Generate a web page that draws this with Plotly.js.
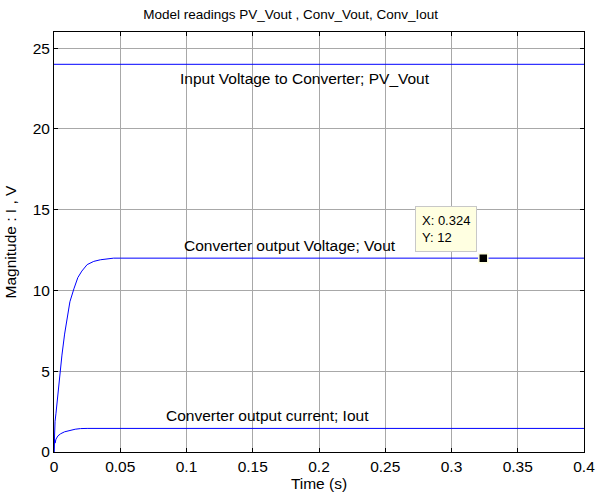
<!DOCTYPE html>
<html><head><meta charset="utf-8">
<script src="https://cdn.plot.ly/plotly-3.0.1.min.js"></script>
<style>body{margin:0;background:#fff}#plot{width:598px;height:495px}</style>
</head><body><div id="plot"></div>
<script>
// PV_Vout (input voltage)
const pvT = [0, 0.4];
const pvV = [24, 24];
// Converter output voltage
const voutT = [0, 0.0003, 0.0008, 0.0015, 0.002, 0.003, 0.004, 0.005, 0.006, 0.008, 0.010, 0.012, 0.015, 0.018, 0.021, 0.025, 0.030, 0.035, 0.040, 0.045, 0.050, 0.4];
const voutV = [0, 1.3, 1.9, 2.4, 2.8, 3.7, 4.6, 5.3, 6.0, 7.3, 8.4, 9.3, 10.1, 10.8, 11.2, 11.6, 11.8, 11.9, 11.95, 12, 12, 12];
// Converter output current
const ioutT = [0, 0.0003, 0.0008, 0.0015, 0.003, 0.005, 0.008, 0.012, 0.016, 0.020, 0.025, 0.4];
const ioutV = [0, 0.8, 0.55, 0.8, 1.0, 1.13, 1.25, 1.35, 1.41, 1.45, 1.46, 1.46];
// Data tip
const tipX = [0.324];
const tipY = [12];
const xTicks = [0, 0.05, 0.1, 0.15, 0.2, 0.25, 0.3, 0.35, 0.4];
const xTickText = ['0', '0.05', '0.1', '0.15', '0.2', '0.25', '0.3', '0.35', '0.4'];
const yTicks = [0, 5, 10, 15, 20, 25];

const line = {color: '#0000ff', width: 1};
const traces = [
  {x: pvT, y: pvV, mode: 'lines', line: line},
  {x: voutT, y: voutV, mode: 'lines', line: line},
  {x: ioutT, y: ioutV, mode: 'lines', line: line},
  {x: tipX, y: tipY, mode: 'markers', marker: {symbol: 'square', size: 9, color: '#000', line: {color: '#ffffe1', width: 1.5}}}
];
const FAM = 'Arial, Liberation Sans, sans-serif';
const font = {family: FAM, size: 15.5, color: '#000'};
const layout = {
  width: 598, height: 495,
  margin: {l: 54, r: 14, t: 32, b: 43},
  showlegend: false,
  paper_bgcolor: '#fff', plot_bgcolor: '#fff',
  font: font,
  title: {text: 'Model readings PV_Vout , Conv_Vout, Conv_Iout', font: {family: FAM, size: 13.5, color: '#000'}, x: 0.486, xanchor: 'center', y: 0.972, yanchor: 'middle'},
  xaxis: {
    range: [0, 0.4], tickvals: xTicks, ticktext: xTickText,
    showgrid: true, gridcolor: '#a8a8a8', gridwidth: 1,
    showline: true, linecolor: '#000', linewidth: 1, mirror: 'ticks',
    ticks: 'inside', ticklen: 4, tickcolor: '#000',
    zeroline: false, tickfont: font,
    title: {text: 'Time (s)', font: font, standoff: 1}
  },
  yaxis: {
    range: [0, 26], tickvals: yTicks,
    showgrid: true, gridcolor: '#a8a8a8', gridwidth: 1,
    showline: true, linecolor: '#000', linewidth: 1, mirror: 'ticks',
    ticks: 'inside', ticklen: 4, tickcolor: '#000',
    zeroline: false, tickfont: font,
    title: {text: 'Magnitude : I , V', font: font, standoff: 12}
  },
  annotations: [
    {x: 0.1894, y: 23.14, xref: 'x', yref: 'y', text: 'Input Voltage to Converter; PV_Vout', showarrow: false, font: font},
    {x: 0.178, y: 12.81, xref: 'x', yref: 'y', text: 'Converter output Voltage; Vout', showarrow: false, font: font},
    {x: 0.1615, y: 2.29, xref: 'x', yref: 'y', text: 'Converter output current; Iout', showarrow: false, font: font},
    {x: tipX[0], y: tipY[0], xref: 'x', yref: 'y', text: 'X: 0.324<br>Y: 12', showarrow: false,
     xanchor: 'right', yanchor: 'bottom', xshift: -6, yshift: 6, align: 'left',
     bgcolor: '#ffffe1', bordercolor: '#c8c8c8', borderwidth: 1, borderpad: 6,
     font: {family: FAM, size: 13, color: '#000'}}
  ]
};
Plotly.newPlot('plot', traces, layout, {displayModeBar: false, staticPlot: true});
</script></body></html>
